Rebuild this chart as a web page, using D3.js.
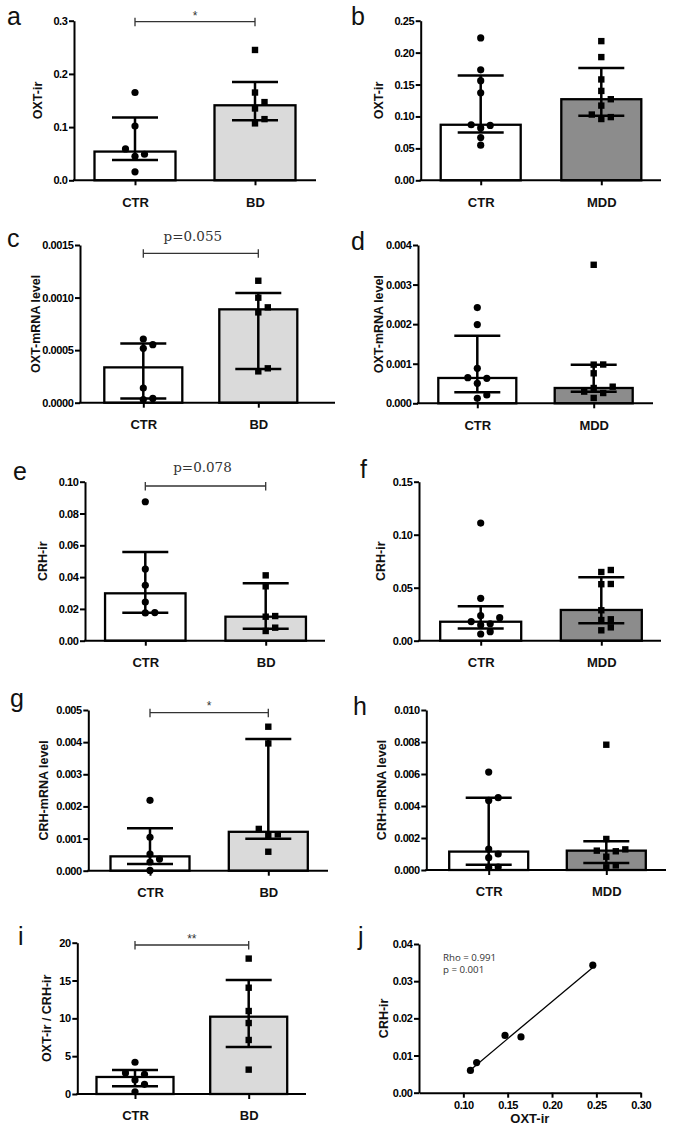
<!DOCTYPE html>
<html>
<head>
<meta charset="utf-8">
<script src="https://cdn.jsdelivr.net/npm/d3@7"></script>
<style>
body { margin: 0; background: #fff; }
svg { display: block; }
</style>
</head>
<body>
<svg id="fig" width="676" height="1132"></svg>
<script>
// values (bar = median, whiskers = interquartile range)
const groupsBD = ["CTR", "BD"];
const groupsMDD = ["CTR", "MDD"];

// a: OXT-ir, CTR vs BD
const aCtr = [0.165, 0.102, 0.059, 0.049, 0.045, 0.016];
const aBd = [0.245, 0.165, 0.147, 0.135, 0.115, 0.107];
const aMid = [0.054, 0.141];
const aHi = [0.118, 0.185];
const aLo = [0.038, 0.113];
const aTicks = [0, 0.1, 0.2, 0.3];

// b: OXT-ir, CTR vs MDD
const bCtr = [0.223, 0.173, 0.156, 0.137, 0.087, 0.086, 0.082, 0.067, 0.055];
const bMdd = [0.218, 0.193, 0.158, 0.140, 0.127, 0.117, 0.103, 0.099, 0.096];
const bMid = [0.087, 0.127];
const bHi = [0.164, 0.176];
const bLo = [0.075, 0.101];
const bTicks = [0, 0.05, 0.10, 0.15, 0.20, 0.25];

// c: OXT-mRNA, CTR vs BD
const cCtr = [0.000606, 0.000552, 0.000517, 0.00014, 0.000041, 0.00003];
const cBd = [0.00116, 0.000999, 0.000907, 0.000859, 0.000327, 0.000298];
const cMid = [0.000336, 0.000888];
const cHi = [0.000564, 0.001043];
const cLo = [0.000041, 0.00032];
const cTicks = [0, 0.0005, 0.0010, 0.0015];

// d: OXT-mRNA, CTR vs MDD
const dCtr = [0.00242, 0.00199, 0.000884, 0.000648, 0.000632, 0.000505, 0.00021, 0.000126];
const dMdd = [0.0035, 0.00098, 0.000977, 0.000758, 0.00042, 0.000387, 0.000295, 0.00026, 0.000135];
const dMid = [0.00064, 0.000387];
const dHi = [0.00171, 0.000977];
const dLo = [0.000278, 0.000295];
const dTicks = [0, 0.001, 0.002, 0.003, 0.004];

// e: CRH-ir, CTR vs BD
const eCtr = [0.0874, 0.0451, 0.0348, 0.0243, 0.0177, 0.0175];
const eBd = [0.0411, 0.0342, 0.0155, 0.0151, 0.0082, 0.0061];
const eMid = [0.0298, 0.0151];
const eHi = [0.0558, 0.0361];
const eLo = [0.0176, 0.0075];
const eTicks = [0, 0.02, 0.04, 0.06, 0.08, 0.10];

// f: CRH-ir, CTR vs MDD
const fCtr = [0.111, 0.040, 0.0236, 0.0217, 0.018, 0.016, 0.0148, 0.0085, 0.0063];
const fMdd = [0.0667, 0.0648, 0.0535, 0.0533, 0.0287, 0.0202, 0.0195, 0.0126, 0.0098];
const fMid = [0.0179, 0.029];
const fHi = [0.0324, 0.0598];
const fLo = [0.0116, 0.0164];
const fTicks = [0, 0.05, 0.10, 0.15];

// g: CRH-mRNA, CTR vs BD
const gCtr = [0.00219, 0.00104, 0.00052, 0.000363, 0.00027, 0.00001];
const gBd = [0.00448, 0.00396, 0.0013, 0.00113, 0.00111, 0.00059];
const gMid = [0.000446, 0.00121];
const gHi = [0.00132, 0.0041];
const gLo = [0.000207, 0.000996];
const gTicks = [0, 0.001, 0.002, 0.003, 0.004, 0.005];

// h: CRH-mRNA, CTR vs MDD
const hCtr = [0.00612, 0.00452, 0.00435, 0.00131, 0.001, 0.00077, 0.00018, 0.00016];
const hMdd = [0.00783, 0.00194, 0.00129, 0.00121, 0.00117, 0.00083, 0.00029, 0.00017];
const hMid = [0.00115, 0.00121];
const hHi = [0.00452, 0.00179];
const hLo = [0.00033, 0.00044];
const hTicks = [0, 0.002, 0.004, 0.006, 0.008, 0.010];

// i: OXT-ir / CRH-ir ratio, CTR vs BD
const iCtr = [4.2, 2.78, 2.6, 1.85, 1.28, 0.3];
const iBd = [17.9, 14.05, 10.97, 9.38, 7.14, 3.22];
const iMid = [2.25, 10.22];
const iHi = [3.17, 15.07];
const iLo = [1.01, 6.21];
const iTicks = [0, 5, 10, 15, 20];

// j: correlation OXT-ir vs CRH-ir (BD)
const jOxt = [0.108, 0.115, 0.147, 0.165, 0.246];
const jCrh = [0.006, 0.0081, 0.0154, 0.015, 0.0343];
const jXTicks = [0.10, 0.15, 0.20, 0.25, 0.30];
const jYTicks = [0, 0.01, 0.02, 0.03, 0.04];
const jStats = ["Rho = 0.991", "p = 0.001"];

// ---- style / layout ----
const SANS = "'Liberation Sans', Arial, sans-serif";
const BD_FILL = "#dadada";
const MDD_FILL = "#8c8c8c";
const SPACING = 9.5;   // horizontal step between swarm columns
const MIN_GAP = 7.5;   // vertical distance that counts as overlap
const CAP_W = 46;

const svg = d3.select("#fig");

const panels = [
  {letter: "a", lx: 7, ly: 25, ax: 74, right: 316, top: 20.7, bottom: 180.3, c1: 135, c2: 255, bw: 81, tOff: 32.3,
   title: "OXT-ir", groups: groupsBD, pts: [aCtr, aBd], mid: aMid, hi: aHi, lo: aLo, ticks: aTicks, fmt: ".1f", fill: BD_FILL,
   sig: {y: 21.7, text: "*", ty: 20.3, dx: 0}},
  {letter: "b", lx: 351, ly: 25, ax: 420.7, right: 661, top: 20.7, bottom: 180.3, c1: 480.7, c2: 601.3, bw: 80, tOff: 37.7,
   title: "OXT-ir", groups: groupsMDD, pts: [bCtr, bMdd], mid: bMid, hi: bHi, lo: bLo, ticks: bTicks, fmt: ".2f", fill: MDD_FILL},
  {letter: "c", lx: 7, ly: 247, ax: 80, right: 335, top: 245, bottom: 402.7, c1: 143.3, c2: 258.3, bw: 78, tOff: 40,
   title: "OXT-mRNA level", groups: groupsBD, pts: [cCtr, cBd], mid: cMid, hi: cHi, lo: cLo, ticks: cTicks, fmt: ".4f", fill: BD_FILL,
   sig: {y: 253.3, text: "p=0.055", serif: true, ty: 240.7, dx: -8}},
  {letter: "d", lx: 351, ly: 250, ax: 418, right: 653, top: 245, bottom: 403.3, c1: 477.3, c2: 593.7, bw: 78, tOff: 35.5,
   title: "OXT-mRNA level", groups: groupsMDD, pts: [dCtr, dMdd], mid: dMid, hi: dHi, lo: dLo, ticks: dTicks, fmt: ".3f", fill: MDD_FILL},
  {letter: "e", lx: 13, ly: 480, ax: 85, right: 325, top: 481.7, bottom: 640.7, c1: 145.3, c2: 265.7, bw: 80.5, tOff: 38.3,
   title: "CRH-ir", groups: groupsBD, pts: [eCtr, eBd], mid: eMid, hi: eHi, lo: eLo, ticks: eTicks, fmt: ".2f", fill: BD_FILL,
   sig: {y: 486, text: "p=0.078", serif: true, ty: 472.3, dx: -3}},
  {letter: "f", lx: 360, ly: 478, ax: 419, right: 661, top: 481.7, bottom: 640.7, c1: 480.7, c2: 601.3, bw: 81, tOff: 34.3,
   title: "CRH-ir", groups: groupsMDD, pts: [fCtr, fMdd], mid: fMid, hi: fHi, lo: fLo, ticks: fTicks, fmt: ".2f", fill: MDD_FILL},
  {letter: "g", lx: 10, ly: 707, ax: 88.3, right: 328, top: 710, bottom: 870.7, c1: 150, c2: 268.3, bw: 79, tOff: 40,
   title: "CRH-mRNA level", groups: groupsBD, pts: [gCtr, gBd], mid: gMid, hi: gHi, lo: gLo, ticks: gTicks, fmt: ".3f", fill: BD_FILL,
   sig: {y: 712.7, text: "*", ty: 710, dx: 0}},
  {letter: "h", lx: 353, ly: 715, ax: 426.3, right: 666, top: 710, bottom: 870, c1: 488.7, c2: 606.3, bw: 79, tOff: 40,
   title: "CRH-mRNA level", groups: groupsMDD, pts: [hCtr, hMdd], mid: hMid, hi: hHi, lo: hLo, ticks: hTicks, fmt: ".3f", fill: MDD_FILL},
  {letter: "i", lx: 18, ly: 945, ax: 77.3, right: 306, top: 942.7, bottom: 1094, c1: 135, c2: 248.7, bw: 77, tOff: 26.6,
   title: "OXT-ir / CRH-ir", groups: groupsBD, pts: [iCtr, iBd], mid: iMid, hi: iHi, lo: iLo, ticks: iTicks, fmt: "d", fill: BD_FILL,
   sig: {y: 945, text: "**", ty: 942.5, dx: 0}},
];

// GraphPad-like scatter: points that would overlap get pushed sideways
function swarm(values, y) {
  const placed = [];
  values.map(v => ({v: v, py: y(v)}))
    .sort((p, q) => q.py - p.py)
    .forEach(p => {
      for (const s of [0, 1, -1, 2, -2, 3, -3]) {
        if (!placed.some(o => o.slot === s && Math.abs(o.py - p.py) < MIN_GAP)) {
          p.slot = s;
          break;
        }
      }
      placed.push(p);
    });
  return placed;
}

function styleAxis(g) {
  g.attr("font-family", null).attr("font-size", null);
  g.select(".domain").attr("stroke", "#000").attr("stroke-width", 2);
  g.selectAll(".tick line").attr("stroke", "#000").attr("stroke-width", 2);
  g.selectAll(".tick text")
    .attr("fill", "#000")
    .style("font-family", SANS)
    .style("font-size", "11px")
    .style("font-weight", "bold")
    .style("letter-spacing", "-0.4px");
}

function drawLetter(letter, x, y) {
  svg.append("text").attr("x", x).attr("y", y)
    .attr("font-family", SANS).attr("font-size", 25).attr("fill", "#111")
    .text(letter);
}

function drawYTitle(text, x, yc) {
  svg.append("text")
    .attr("transform", `translate(${x},${yc}) rotate(-90)`)
    .attr("text-anchor", "middle")
    .attr("font-family", SANS).attr("font-size", 12.5).attr("font-weight", "bold").attr("fill", "#111")
    .text(text);
}

function drawBarPanel(p) {
  const y = d3.scaleLinear().domain([0, d3.max(p.ticks)]).range([p.bottom, p.top]);
  const x = d3.scalePoint().domain(p.groups).range([p.c1, p.c2]);
  const g = svg.append("g");

  // bars
  g.selectAll("rect.bar").data(p.groups).join("rect")
    .attr("class", "bar")
    .attr("x", d => x(d) - p.bw / 2)
    .attr("y", (d, i) => y(p.mid[i]))
    .attr("width", p.bw)
    .attr("height", (d, i) => y(0) - y(p.mid[i]))
    .attr("fill", (d, i) => i === 0 ? "#fff" : p.fill)
    .attr("stroke", "#000").attr("stroke-width", 2.3);

  // individual values
  p.groups.forEach((grp, i) => {
    const cx = x(grp);
    const pts = swarm(p.pts[i], y);
    if (i === 0) {
      g.selectAll(null).data(pts).join("circle")
        .attr("cx", d => cx + d.slot * SPACING)
        .attr("cy", d => d.py)
        .attr("r", 3.6)
        .attr("fill", "#000");
    } else {
      g.selectAll(null).data(pts).join("rect")
        .attr("x", d => cx + d.slot * SPACING - 3.2)
        .attr("y", d => d.py - 3.2)
        .attr("width", 6.4).attr("height", 6.4)
        .attr("fill", "#000");
    }
  });

  // whiskers
  p.groups.forEach((grp, i) => {
    const cx = x(grp);
    const eg = g.append("g").attr("stroke", "#000").attr("stroke-width", 2.5);
    eg.append("line").attr("x1", cx).attr("x2", cx).attr("y1", y(p.lo[i])).attr("y2", y(p.hi[i]));
    [p.lo[i], p.hi[i]].forEach(v => {
      eg.append("line").attr("x1", cx - CAP_W / 2).attr("x2", cx + CAP_W / 2)
        .attr("y1", y(v)).attr("y2", y(v));
    });
  });

  // y axis
  g.append("g")
    .attr("transform", `translate(${p.ax},0)`)
    .call(d3.axisLeft(y).tickValues(p.ticks).tickFormat(d3.format(p.fmt))
      .tickSize(5).tickPadding(1.5).tickSizeOuter(0))
    .call(styleAxis);

  // x axis
  g.append("line")
    .attr("x1", p.ax - 1).attr("x2", p.right)
    .attr("y1", y(0)).attr("y2", y(0))
    .attr("stroke", "#000").attr("stroke-width", 2);
  const xa = g.append("g")
    .attr("transform", `translate(0,${y(0)})`)
    .call(d3.axisBottom(x).tickSize(5).tickPadding(12).tickSizeOuter(0));
  xa.select(".domain").remove();
  xa.selectAll(".tick line").attr("stroke", "#000").attr("stroke-width", 2);
  xa.selectAll(".tick text")
    .attr("font-family", SANS).attr("font-size", 13).attr("font-weight", "bold").attr("fill", "#111");

  drawYTitle(p.title, p.ax - p.tOff, (p.top + p.bottom) / 2);
  drawLetter(p.letter, p.lx, p.ly);

  // significance bracket
  if (p.sig) {
    const x1 = x(p.groups[0]), x2 = x(p.groups[1]);
    const sg = g.append("g").attr("stroke", "#333").attr("stroke-width", 1.3);
    sg.append("line").attr("x1", x1).attr("x2", x2).attr("y1", p.sig.y).attr("y2", p.sig.y);
    [x1, x2].forEach(xx => {
      sg.append("line").attr("x1", xx).attr("x2", xx).attr("y1", p.sig.y - 4).attr("y2", p.sig.y + 4.5);
    });
    g.append("text")
      .attr("x", (x1 + x2) / 2 + p.sig.dx).attr("y", p.sig.ty)
      .attr("text-anchor", "middle")
      .attr("font-family", p.sig.serif ? "'DejaVu Serif', serif" : SANS)
      .attr("font-size", p.sig.serif ? 13.5 : 12)
      .attr("fill", "#333")
      .text(p.sig.text);
  }
}

panels.forEach(drawBarPanel);

// ---- j: scatter with regression line ----
(function drawScatter() {
  const ax = 419, right = 640.7, top = 944, bottom = 1092.7;
  const x = d3.scaleLinear().domain([0.05, 0.30]).range([ax, right]);
  const y = d3.scaleLinear().domain([0, 0.04]).range([bottom, top]);
  const g = svg.append("g");

  // least squares fit
  const mx = d3.mean(jOxt), my = d3.mean(jCrh);
  const sxy = d3.sum(jOxt, (v, i) => (v - mx) * (jCrh[i] - my));
  const sxx = d3.sum(jOxt, v => (v - mx) * (v - mx));
  const slope = sxy / sxx, icpt = my - slope * mx;
  const xr = d3.extent(jOxt);
  g.append("line")
    .attr("x1", x(xr[0])).attr("y1", y(icpt + slope * xr[0]))
    .attr("x2", x(xr[1])).attr("y2", y(icpt + slope * xr[1]))
    .attr("stroke", "#000").attr("stroke-width", 1.3);

  g.selectAll(null).data(jOxt).join("circle")
    .attr("cx", d => x(d))
    .attr("cy", (d, i) => y(jCrh[i]))
    .attr("r", 3.6)
    .attr("fill", "#000");

  g.append("g")
    .attr("transform", `translate(${ax},0)`)
    .call(d3.axisLeft(y).tickValues(jYTicks).tickFormat(d3.format(".2f")).tickSize(5).tickPadding(1.5).tickSizeOuter(0))
    .call(styleAxis);
  g.append("g")
    .attr("transform", `translate(0,${bottom})`)
    .call(d3.axisBottom(x).tickValues(jXTicks).tickFormat(d3.format(".2f")).tickSize(5).tickPadding(4).tickSizeOuter(0))
    .call(styleAxis);

  g.selectAll(null).data(jStats).join("text")
    .attr("x", 443).attr("y", (d, i) => 960.5 + i * 12)
    .attr("font-family", "'Open Sans', sans-serif").attr("font-size", 9.7).attr("fill", "#333")
    .text(d => d);

  drawYTitle("CRH-ir", ax - 31, (top + bottom) / 2);
  svg.append("text")
    .attr("x", (ax + right) / 2).attr("y", 1123)
    .attr("text-anchor", "middle")
    .attr("font-family", SANS).attr("font-size", 13).attr("font-weight", "bold").attr("fill", "#111")
    .text("OXT-ir");
  drawLetter("j", 358, 945);
})();
</script>
</body>
</html>
